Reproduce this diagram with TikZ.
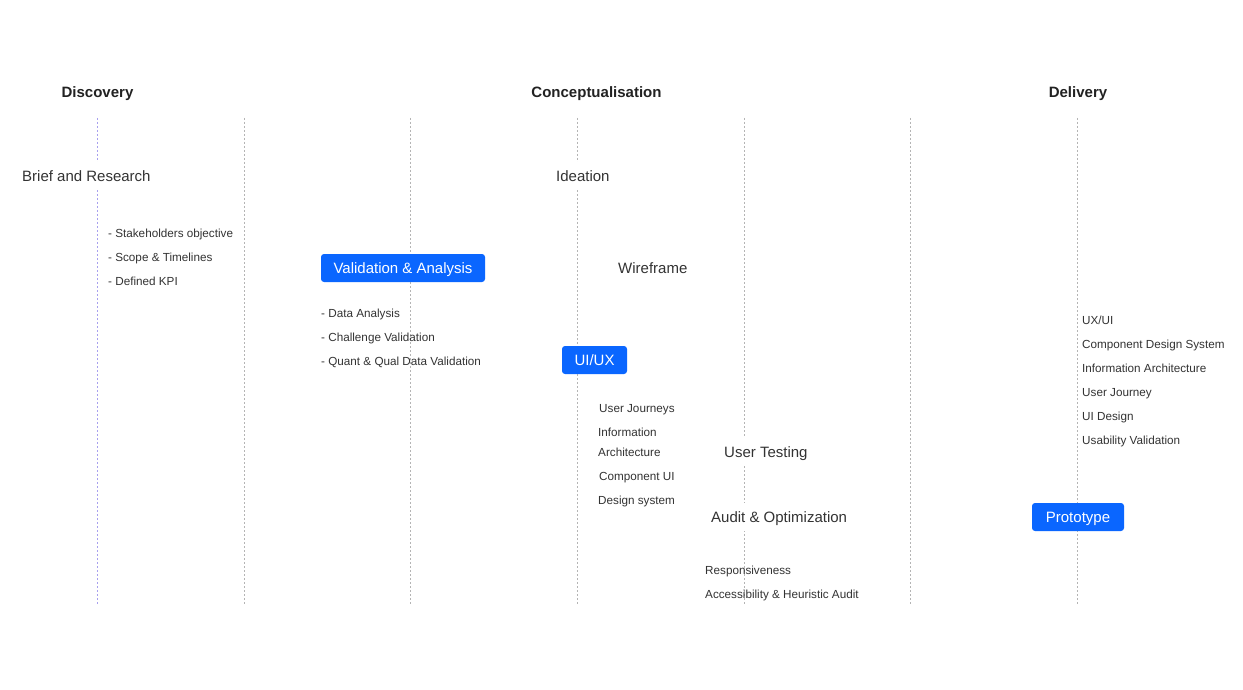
\documentclass[tikz,border=0pt]{standalone}
\usepackage{fontspec}
\setmainfont{Liberation Sans}
\definecolor{bluebox}{HTML}{0A66FF}
\definecolor{gridgray}{HTML}{B4B4B4}
\definecolor{gridlav}{HTML}{A8A0EE}
\definecolor{txt}{HTML}{333333}
\definecolor{head}{HTML}{222222}
\begin{document}
\begin{tikzpicture}[x=1pt,y=-1pt,
  capbig/.style={text height=10.8pt, text depth=0pt},
  capsmall/.style={text height=8.4pt, text depth=0pt},
  phase/.style={font=\fontsize{15}{18}\selectfont\bfseries, text=head, inner sep=0pt, capbig},
  biglabel/.style={font=\fontsize{15}{18}\selectfont, text=txt, fill=white, inner xsep=2pt, inner ysep=0pt, minimum height=28pt, anchor=west, capbig},
  smalllabel/.style={font=\fontsize{11.7}{14}\selectfont, text=txt, inner sep=0pt, anchor=west, capsmall},
  bluelabel/.style={font=\fontsize{15}{18}\selectfont, text=white, fill=bluebox, rounded corners=3pt, inner xsep=0pt, inner ysep=0pt, minimum height=28pt, capbig},
  gridline/.style={draw=gridgray, line width=0.8pt, dash pattern=on 2pt off 2pt},
]
\useasboundingbox[fill=white] (0,0) rectangle (1243,690);

% dashed column guides
\draw[gridline, draw=gridlav] (97,118) -- (97,604);
\foreach \xx in {244,410,577,744,910,1077}
  \draw[gridline] (\xx,118) -- (\xx,604);

% phase headings
\node[phase] (discovery) at (97.5,92) {Discovery};
\node[phase] (concept) at (596.5,92) {Conceptualisation};
\node[phase] (delivery) at (1078,92) {Delivery};

% Discovery
\node[biglabel] (brief) at (20,176) {Brief and Research};
\node[smalllabel] (so) at (108,233) {- Stakeholders objective};
\node[smalllabel] (st) at (108,257) {- Scope \& Timelines};
\node[smalllabel] (kpi) at (108,281) {- Defined KPI};

\node[bluelabel, minimum width=164pt] (valid) at (403,268) {Validation \& Analysis};
\node[smalllabel] (da) at (321,313) {- Data Analysis};
\node[smalllabel] (cv) at (321,337) {- Challenge Validation};
\node[smalllabel] (qq) at (321,361) {- Quant \& Qual Data Validation};

% Conceptualisation
\node[biglabel] (ideation) at (554,176) {Ideation};
\node[biglabel] (wire) at (616,268) {Wireframe};
\node[bluelabel, minimum width=65pt] (uiux) at (594.5,360) {UI/UX};
\node[smalllabel] (uj) at (599,408) {User Journeys};
\node[smalllabel] (ia1) at (598,432) {Information};
\node[smalllabel] (ia2) at (598,452) {Architecture};
\node[smalllabel] (cui) at (599,476) {Component UI};
\node[smalllabel] (ds) at (598,500) {Design system};
\node[biglabel] (ut) at (722,452) {User Testing};
\node[biglabel] (audit) at (709,517) {Audit \& Optimization};
\node[smalllabel] (resp) at (705,570) {Responsiveness};
\node[smalllabel] (acc) at (705,594) {Accessibility \& Heuristic Audit};

% Delivery
\node[smalllabel] (d1) at (1082,320) {UX/UI};
\node[smalllabel] (d2) at (1082,344) {Component Design System};
\node[smalllabel] (d3) at (1082,368) {Information Architecture};
\node[smalllabel] (d4) at (1082,392) {User Journey};
\node[smalllabel] (d5) at (1082,416) {UI Design};
\node[smalllabel] (d6) at (1082,440) {Usability Validation};
\node[bluelabel, minimum width=92pt] (proto) at (1078,517) {Prototype};
\end{tikzpicture}
\end{document}
